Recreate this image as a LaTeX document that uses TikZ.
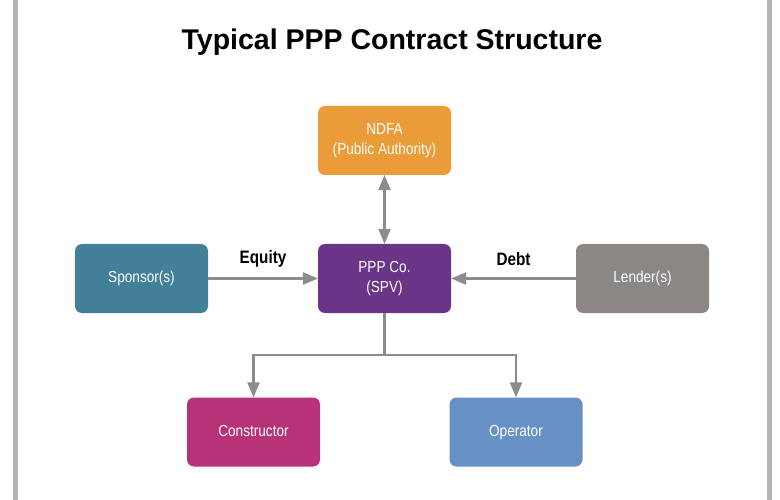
\documentclass[tikz,border=0pt]{standalone}
\usepackage{fontspec}
\setmainfont{Liberation Sans}
\newfontfamily\narrowfont[FakeStretch=0.85]{Liberation Sans}
\usepackage{tikz}
\usetikzlibrary{arrows}
\definecolor{ea9c37}{rgb}{0.914,0.612,0.216}
\definecolor{42809a}{rgb}{0.259,0.502,0.604}
\definecolor{6a3586}{rgb}{0.416,0.208,0.525}
\definecolor{8a8785}{rgb}{0.541,0.529,0.522}
\definecolor{b8327a}{rgb}{0.722,0.196,0.478}
\definecolor{6790c5}{rgb}{0.404,0.565,0.773}
\definecolor{8c8c8c}{rgb}{0.549,0.549,0.549}
\definecolor{b4b4b4}{rgb}{0.706,0.706,0.706}
\tikzset{
  partybox/.style={rounded corners=7pt,minimum width=133pt,minimum height=69pt,inner sep=0pt,
    text=white,align=center,font=\narrowfont\fontsize{16}{20}\selectfont},
  oneline/.style={text height=12pt,text depth=4pt},
  flowline/.style={line width=2.5pt,color=8c8c8c},
  flowlabel/.style={font=\narrowfont\bfseries\fontsize{18}{20}\selectfont}
}
\begin{document}
\begin{tikzpicture}[line join=miter,>=triangle 45,x=1pt,y=-1pt]
    \useasboundingbox (0,0) rectangle (780,500);
    \draw [line width=5pt,color=b4b4b4] (15.5,0)-- (15.5,500);
    \draw [line width=5pt,color=b4b4b4] (769.5,0)-- (769.5,500);
    \node (title) at (392,42) {\bfseries\fontsize{28.5}{32}\selectfont Typical PPP Contract Structure};
    % parties
    \node [partybox,fill=ea9c37] (ndfa) at (384.5,140.5) {NDFA\\(Public Authority)};
    \node [partybox,oneline,fill=42809a] (sponsor) at (141.5,278.5) {Sponsor(s)};
    \node [partybox,fill=6a3586] (ppp) at (384.5,278.5) {PPP Co.\\(SPV)};
    \node [partybox,oneline,fill=8a8785] (lender) at (642.5,278.5) {Lender(s)};
    \node [partybox,oneline,fill=b8327a] (constructor) at (253.5,432) {Constructor};
    \node [partybox,oneline,fill=6790c5] (operator) at (516,432) {Operator};
    % flows
    \draw [flowline,<->] (ppp.north)-- (ndfa.south);
    \draw [flowline,->] (sponsor.east)-- (ppp.west);
    \draw [flowline,->] (lender.west)-- (ppp.east);
    \coordinate (split) at (384.5,355);
    \draw [flowline] (ppp.south)-- (split);
    \draw [flowline,->] (split)-| (constructor.north);
    \draw [flowline,->] (split)-| (operator.north);
    \node [flowlabel] (equity) at (263,259) {Equity};
    \node [flowlabel] (debt) at (513.5,259) {Debt};
\end{tikzpicture}
\end{document}
